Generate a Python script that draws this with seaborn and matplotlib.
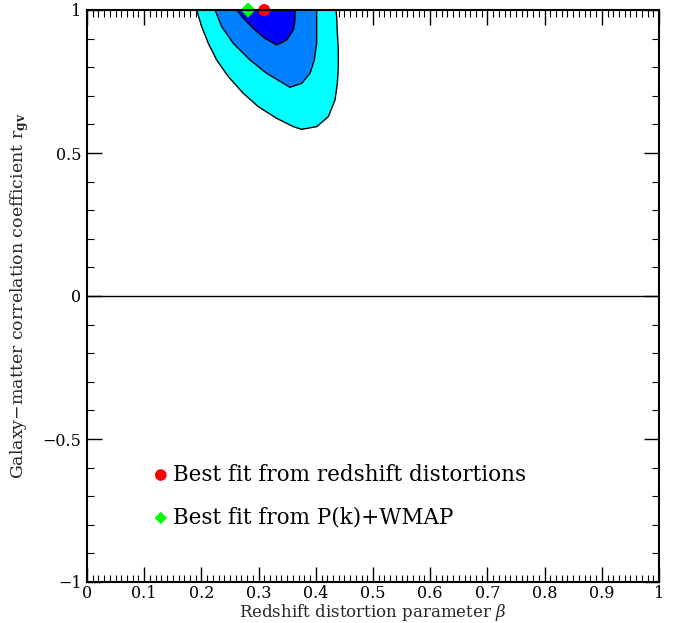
import matplotlib
matplotlib.use("Agg")
import matplotlib.pyplot as plt
import seaborn as sns
import pandas as pd
from matplotlib.ticker import MultipleLocator

# Contour boundaries (beta, r_gv)
outer_beta = [0.1917, 0.2005, 0.2121, 0.2267, 0.2471, 0.2733, 0.2995, 0.3316, 0.3607, 0.3753,
              0.4015, 0.4219, 0.4336, 0.4377, 0.4394, 0.4394, 0.4377, 0.4365, 0.4353]
outer_r    = [1.0000, 0.9417, 0.8834, 0.8252, 0.7669, 0.7086, 0.6620, 0.6212, 0.5921, 0.5828,
              0.5921, 0.6270, 0.6853, 0.7436, 0.8019, 0.8601, 0.9184, 0.9767, 1.0000]
mid_beta = [0.2238, 0.2354, 0.2558, 0.2850, 0.3141, 0.3432, 0.3549, 0.3753, 0.3899, 0.3974, 0.4015, 0.4015, 0.4015]
mid_r    = [1.0000, 0.9417, 0.8834, 0.8252, 0.7786, 0.7436, 0.7296, 0.7436, 0.7786, 0.8252, 0.8834, 0.9417, 1.0000]
inner_beta = [0.2617, 0.2762, 0.2937, 0.3112, 0.3316, 0.3491, 0.3607, 0.3636, 0.3636]
inner_r    = [1.0000, 0.9650, 0.9301, 0.9009, 0.8776, 0.8951, 0.9301, 0.9650, 1.0000]

contour_colors = ["#00FFFF", "#0080FF", "#0000FF"]

best_labels = ["Best fit from redshift distortions", "Best fit from P(k)+WMAP"]
best_beta = [0.310, 0.2815]
best_r = [1.0, 1.0]
best_colors = ["#FF0000", "#00FF00"]
best_markers = ["o", "D"]

legend_y = [-0.626, -0.776]

x_ticks = [0, 0.1, 0.2, 0.3, 0.4, 0.5, 0.6, 0.7, 0.8, 0.9, 1]
x_ticklabels = ["0", "0.1", "0.2", "0.3", "0.4", "0.5", "0.6", "0.7", "0.8", "0.9", "1"]
y_ticks = [-1, -0.5, 0, 0.5, 1]
y_ticklabels = ["\u22121", "\u22120.5", "0", "0.5", "1"]

sns.set_style("ticks")
plt.rcParams["font.family"] = ["DejaVu Serif", "DejaVu Sans"]
plt.rcParams["mathtext.fontset"] = "dejavuserif"

fig = plt.figure(figsize=(6.83, 6.23), dpi=100)
ax = fig.add_axes([87/683, 41/623, 572/683, 572/623])

for bx, by, c in zip([outer_beta, mid_beta, inner_beta], [outer_r, mid_r, inner_r], contour_colors):
    ax.fill(bx, by, facecolor=c, edgecolor="black", linewidth=1.0, zorder=2, joinstyle="round")

# zero line
zero_df = pd.DataFrame({"x": [0, 1], "y": [0, 0]})
sns.lineplot(data=zero_df, x="x", y="y", color="black", linewidth=1.0, ax=ax, zorder=3)

# best-fit points on the top edge
for b, r, c, m in zip(best_beta, best_r, best_colors, best_markers):
    df = pd.DataFrame({"b": [b], "r": [r]})
    sns.scatterplot(data=df, x="b", y="r", color=c, marker=m, s=75 if m == "o" else 60,
                    edgecolor="none", ax=ax, zorder=3.5, clip_on=False)

# in-plot legend
for lab, ly, c, m in zip(best_labels, legend_y, best_colors, best_markers):
    df = pd.DataFrame({"b": [0.129], "r": [ly]})
    sns.scatterplot(data=df, x="b", y="r", color=c, marker=m, s=70 if m == "o" else 40,
                    edgecolor="none", ax=ax, zorder=5)
    ax.text(0.150, ly, lab, fontsize=15.5, va="center", ha="left", color="black")

ax.set_xlim(0, 1)
ax.set_ylim(-1, 1)
ax.set_xticks(x_ticks)
ax.set_xticklabels(x_ticklabels)
ax.set_yticks(y_ticks)
ax.set_yticklabels(y_ticklabels)
ax.xaxis.set_minor_locator(MultipleLocator(0.01))
ax.yaxis.set_minor_locator(MultipleLocator(0.1))
ax.tick_params(which="both", direction="in", top=True, right=True, labelsize=11.5, colors="black")
ax.tick_params(which="major", length=11, width=1.0)
ax.tick_params(axis="x", which="major", pad=2)
ax.tick_params(axis="y", which="major", pad=4)
ax.tick_params(which="minor", length=5, width=0.8)
for s in ax.spines.values():
    s.set_linewidth(1.5)
    s.set_color("black")
    s.set_zorder(4.5)

ax.set_xlabel(r"Redshift distortion parameter $\beta$", fontsize=12, labelpad=0)
ax.set_ylabel(r"Galaxy$-$matter correlation coefficient r$_{\mathbf{gv}}$", fontsize=12.5, labelpad=8)

fig.savefig("out.png", dpi=100)
